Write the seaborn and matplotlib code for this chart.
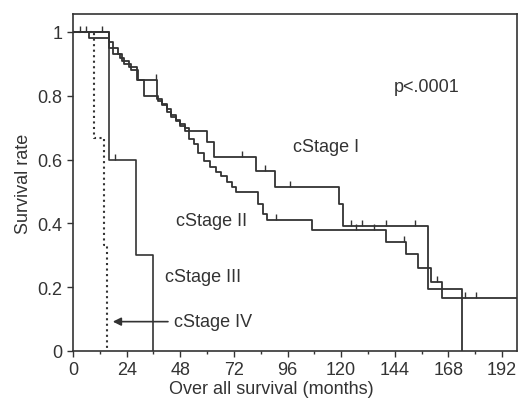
import numpy as np
import pandas as pd
import matplotlib
matplotlib.use("Agg")
import matplotlib.pyplot as plt
import seaborn as sns

sns.set_style("ticks")
plt.rcParams["font.family"] = ["Liberation Sans", "DejaVu Sans"]

INK = "#333333"

# Kaplan-Meier step points (months, survival rate)
stage1_t = [0, 16, 18, 20, 22, 25, 28.6, 37.5, 40, 42, 44, 46, 48, 50, 52, 60, 63, 82, 90.5, 119, 121, 159, 174]
stage1_s = [1.0, 0.97, 0.95, 0.93, 0.91, 0.89, 0.85, 0.79, 0.775, 0.76, 0.74, 0.725, 0.71, 0.70, 0.69,
            0.655, 0.607, 0.565, 0.515, 0.46, 0.393, 0.195, 0.0]
stage1_cens_t = [3, 6, 13, 37, 75.7, 86, 97, 124.6, 129.5, 139.9, 153]
stage1_cens_s = [1.0, 1.0, 1.0, 0.85, 0.607, 0.565, 0.515, 0.393, 0.393, 0.393, 0.393]

stage2_t = [0, 7, 16, 18, 21, 23, 26, 29, 31.6, 38, 40, 42, 44, 46, 48, 50, 52, 54, 56, 58.6, 61.5, 64,
            66, 69, 71, 73, 83, 85, 87, 107, 140, 149, 154.5, 160, 165, 198.7]
stage2_s = [1.0, 0.98, 0.95, 0.93, 0.92, 0.90, 0.88, 0.85, 0.80, 0.785, 0.77, 0.75, 0.735, 0.72, 0.705,
            0.69, 0.665, 0.65, 0.62, 0.596, 0.577, 0.56, 0.55, 0.53, 0.515, 0.498, 0.46, 0.43, 0.41,
            0.38, 0.343, 0.304, 0.26, 0.217, 0.165, 0.165]
stage2_cens_t = [91, 126.8, 134.5, 148, 163, 175.4, 180.4]
stage2_cens_s = [0.41, 0.38, 0.38, 0.343, 0.217, 0.165, 0.165]

stage3_t = [0, 16, 28, 36]
stage3_s = [1.0, 0.6, 0.3, 0.0]
stage3_cens_t = [19]
stage3_cens_s = [0.6]

stage4_t = [0, 9.5, 13.7, 15.2]
stage4_s = [1.0, 0.667, 0.333, 0.0]

x_ticks = [0, 24, 48, 72, 96, 120, 144, 168, 192]
y_ticks = [0, 0.2, 0.4, 0.6, 0.8, 1.0]
y_ticklabels = ["0", "0.2", "0.4", "0.6", "0.8", "1"]

fig = plt.figure(figsize=(5.19, 4.02), dpi=100)
ax = fig.add_axes([0.1407, 0.1244, 0.8555, 0.838])

curves = [
    (stage1_t, stage1_s, "-", 1.3),
    (stage2_t, stage2_s, "-", 1.3),
    (stage3_t, stage3_s, "-", 1.2),
    (stage4_t, stage4_s, ":", 1.5),
]
for t, s, ls, lw in curves:
    df = pd.DataFrame({"months": t, "surv": s})
    sns.lineplot(data=df, x="months", y="surv", ax=ax, drawstyle="steps-post",
                 color=INK, linestyle=ls, linewidth=lw, estimator=None, sort=False)

for ct, cs in [(stage1_cens_t, stage1_cens_s), (stage2_cens_t, stage2_cens_s),
               (stage3_cens_t, stage3_cens_s)]:
    ax.plot(ct, cs, linestyle="none", marker=2, markersize=4, markeredgewidth=1, color=INK)

ax.set_xlim(0, 198.7)
ax.set_ylim(0, 1.056)
ax.set_xticks(x_ticks)
ax.set_xticks(np.arange(12, 198, 24), minor=True)
ax.set_yticks(y_ticks)
ax.set_yticklabels(y_ticklabels)
ax.tick_params(axis="both", which="major", labelsize=13, colors=INK, length=4, width=1)
ax.tick_params(axis="x", which="minor", length=2.5, width=1, color=INK)

for side in ["left", "right", "top", "bottom"]:
    ax.spines[side].set_visible(True)
    ax.spines[side].set_color(INK)
    ax.spines[side].set_linewidth(1.2)

ax.set_xlabel("Over all survival (months)", fontsize=13, color=INK, labelpad=1)
ax.xaxis.set_label_coords(0.446, -0.085)
ax.set_ylabel("Survival rate", fontsize=13, color=INK, labelpad=4)

txt = dict(fontsize=13, color=INK, ha="left", va="center")
ax.text(143.6, 0.83, "p<.0001", **txt)
ax.text(98.3, 0.64, "cStage I", **txt)
ax.text(46.3, 0.41, "cStage II", **txt)
ax.text(41.2, 0.235, "cStage III", **txt)
ax.annotate("cStage IV", xy=(17.8, 0.092), xytext=(45.2, 0.092), fontsize=13, color=INK,
            ha="left", va="center",
            arrowprops=dict(arrowstyle="-|>", color=INK, lw=1.2, mutation_scale=12, shrinkA=2, shrinkB=0))

fig.savefig("out.png", dpi=100)
